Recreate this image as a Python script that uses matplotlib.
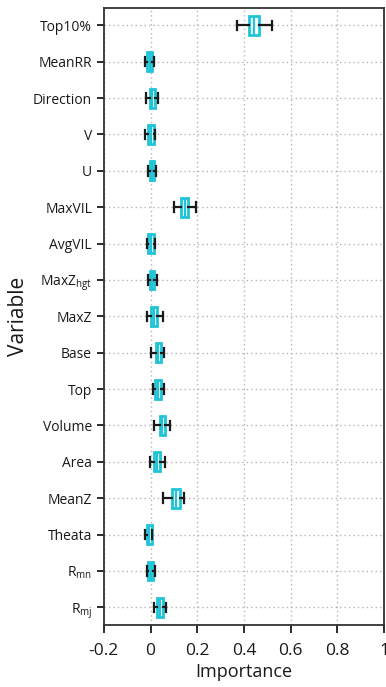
import matplotlib
matplotlib.use("Agg")
import matplotlib.pyplot as plt

plt.rcParams['font.family'] = ['Open Sans', 'DejaVu Sans']
plt.rcParams['mathtext.fontset'] = 'custom'
plt.rcParams['mathtext.rm'] = 'Open Sans'
plt.rcParams['mathtext.it'] = 'Open Sans'

variables = ['Top10%', 'MeanRR', 'Direction', 'V', 'U', 'MaxVIL', 'AvgVIL',
             r'MaxZ$_{\mathrm{hgt}}$', 'MaxZ', 'Base', 'Top', 'Volume', 'Area',
             'MeanZ', 'Theata', r'R$_{\mathrm{mn}}$', r'R$_{\mathrm{mj}}$']

whisker_low = [0.370, -0.023, -0.020, -0.024, -0.012, 0.099, -0.014, -0.012, -0.017,
               0.004, 0.009, 0.014, -0.003, 0.053, -0.023, -0.014, 0.016]
q1 = [0.422, -0.016, -0.004, -0.012, -0.003, 0.132, -0.009, -0.003, 0.004,
      0.023, 0.021, 0.039, 0.013, 0.091, -0.017, -0.010, 0.029]
median = [0.443, -0.004, 0.008, 0.000, 0.005, 0.146, 0.002, 0.006, 0.015,
          0.034, 0.033, 0.050, 0.027, 0.109, -0.005, 0.001, 0.041]
q3 = [0.464, 0.007, 0.020, 0.013, 0.014, 0.160, 0.014, 0.016, 0.027,
      0.046, 0.046, 0.060, 0.042, 0.127, 0.006, 0.012, 0.054]
whisker_high = [0.518, 0.013, 0.033, 0.018, 0.023, 0.196, 0.020, 0.027, 0.052,
                0.059, 0.057, 0.085, 0.064, 0.143, 0.006, 0.017, 0.066]

xticks = [-0.2, 0, 0.2, 0.4, 0.6, 0.8, 1]
xtick_labels = ['-0.2', '0', '0.2', '0.4', '0.6', '0.8', '1']

box_color = '#1fc4d6'
ink = '#1a1a1a'

stats = []
for lo, a, m, b, hi in zip(whisker_low, q1, median, q3, whisker_high):
    stats.append(dict(whislo=lo, q1=a, med=m, q3=b, whishi=hi, fliers=[]))

fig = plt.figure(figsize=(3.86, 6.87), dpi=100)
ax = fig.add_axes([0.269, 0.090, 0.726, 0.898])

positions = list(range(len(variables)))
parts = ax.bxp(stats, positions=positions, vert=False, widths=0.52,
               patch_artist=True, showfliers=False,
               boxprops=dict(facecolor='white', edgecolor=box_color, linewidth=2.0),
               medianprops=dict(color=box_color, linewidth=1.6),
               whiskerprops=dict(color=ink, linewidth=1.6),
               capprops=dict(color=ink, linewidth=1.6),
               capwidths=0.26)
for b in parts['boxes']:
    b.set_zorder(3)
for m in parts['medians']:
    m.set_zorder(3.5)
for ln in parts['whiskers'] + parts['caps']:
    ln.set_zorder(4)

ax.set_xlim(-0.2, 1.0)
ax.set_ylim(16.49, -0.47)
ax.set_yticks(positions)
ax.set_yticklabels(variables, fontsize=10)
ax.set_xticks(xticks)
ax.set_xticklabels(xtick_labels, fontsize=12.5)

ax.grid(True, linestyle=(0, (1, 2.2)), color='#b5b5b5', linewidth=1.0, zorder=0)
ax.set_axisbelow(True)

for s in ax.spines.values():
    s.set_color('#333333')
    s.set_linewidth(1.3)

ax.tick_params(axis='y', direction='out', length=5, width=1.3, pad=3.5, colors=ink)
ax.tick_params(axis='x', direction='out', length=6, width=1.3, pad=7, colors=ink)

ax.set_xlabel('Importance', fontsize=13, labelpad=3, color=ink)
ax.set_ylabel('Variable', fontsize=15, labelpad=3, color=ink)

fig.savefig('out.png', dpi=100)
